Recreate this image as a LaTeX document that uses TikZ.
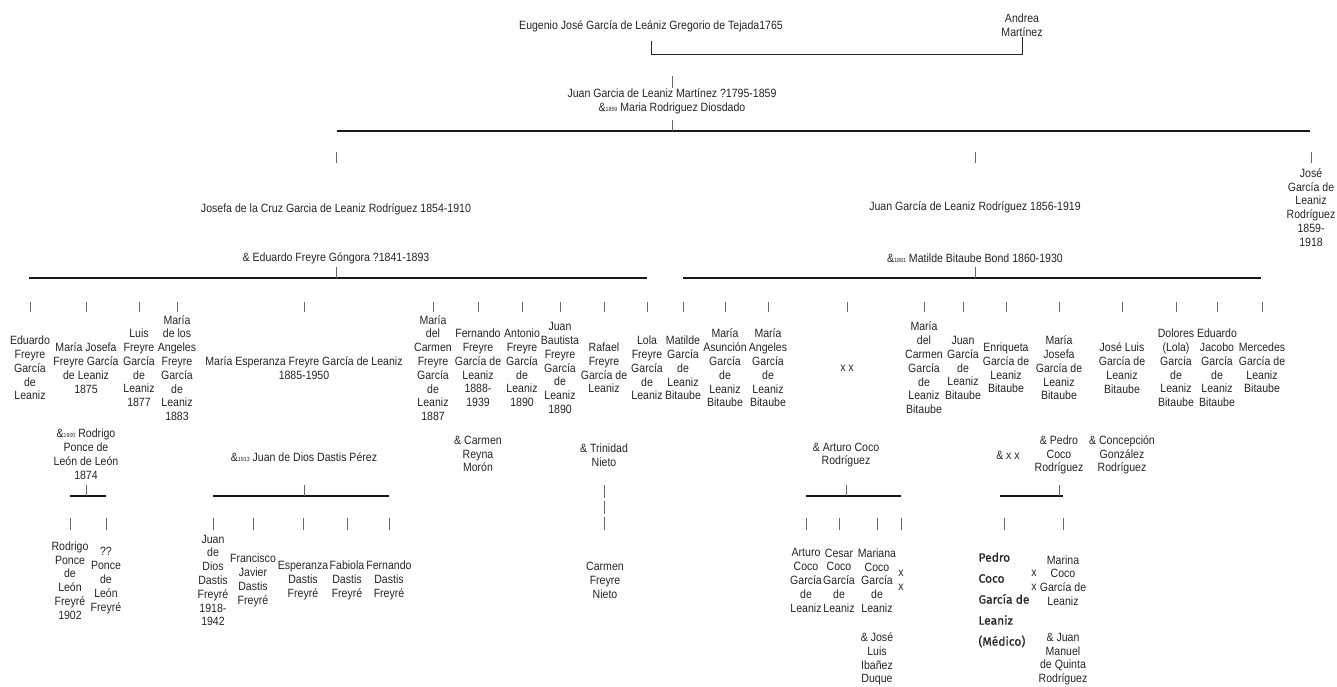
\documentclass[tikz,border=0pt]{standalone}
\usepackage{fontspec}
\setmainfont{Liberation Sans}[FakeStretch=0.88]
\newfontfamily\medfont{Fira Sans}[FakeBold=1]
\usetikzlibrary{calc}
\newcommand{\wy}[1]{{\fontsize{6}{6}\selectfont #1}}
\tikzstyle{person} = [align=center,inner sep=0pt,text=black!85,font=\fontsize{12}{13.8}\selectfont]
\tikzstyle{famline} = [line width=1.6pt,black!90]
\tikzstyle{stub} = [line width=0.7pt,black!60]

\begin{document}
\begin{tikzpicture}[x=1pt,y=-1pt]
\useasboundingbox (0,0) rectangle (1337,686);

% oldest couple and their son
\node[person] at (651,26) (eug) {Eugenio José García de Leániz Gregorio de Tejada1765};
\node[person] at (1022,25) (andrea) {Andrea\\Martínez};
\coordinate (top) at (0,54);
\draw[line width=1pt,black!85] (eug.south) ++(0,9) -- (eug.south |- top) -- (andrea.south |- top) -- (andrea.south);
\node[person] at (672,93) (juan) {Juan Garcia de Leaniz Martínez ?1795-1859};
\node[person] at (672,108) (maria) {\&\wy{1859} Maria Rodriguez Diosdado};
\draw[stub] ([yshift=12pt]juan.north) -- (juan.north);
\coordinate (b0l) at (337,131);
\coordinate (b0r) at (1310,131);
\draw[famline] (b0l) -- (b0r);
\draw[stub] ([yshift=-6pt]maria.south) -- (maria.south |- b0l);

% second generation
\node[person] at (336,209) (josefa) {Josefa de la Cruz Garcia de Leaniz Rodríguez 1854-1910};
\node[person] at (975,207) (juang) {Juan García de Leaniz Rodríguez 1856-1919};
\node[person] at (1311,207.5) (jose) {José\\García de\\Leaniz\\Rodríguez\\1859-\\1918};
\foreach \n in {josefa,juang,jose} {
    \draw[stub] (\n |- 0,152) -- (\n |- 0,163);
}
\node[person] at (336,258) (eduardo) {\& Eduardo Freyre Góngora ?1841-1893};
\node[person] at (975,258) (matilde) {\&\wy{1881} Matilde Bitaube Bond 1860-1930};
\coordinate (bAl) at (29,278);
\coordinate (bAr) at (647,278);
\coordinate (bBl) at (683,278);
\coordinate (bBr) at (1261,278);
\draw[famline] (bAl) -- (bAr);
\draw[famline] (bBl) -- (bBr);
\draw[stub] (eduardo |- 0,267) -- (eduardo |- bAl);
\draw[stub] (matilde |- 0,267) -- (matilde |- bBl);

% children of both families
\foreach \x/\t [count=\i] in {
    30/{Eduardo\\Freyre\\García\\de\\Leaniz},
    86/{María Josefa\\Freyre García\\de Leaniz\\1875},
    139/{Luis\\Freyre\\García\\de\\Leaniz\\1877},
    177/{María\\de los\\Angeles\\Freyre\\García\\de\\Leaniz\\1883},
    304/{María Esperanza Freyre García de Leaniz\\1885-1950},
    433/{María\\del\\Carmen\\Freyre\\García\\de\\Leaniz\\1887},
    478/{Fernando\\Freyre\\García de\\Leaniz\\1888-\\1939},
    522/{Antonio\\Freyre\\García\\de\\Leaniz\\1890},
    560/{Juan\\Bautista\\Freyre\\García\\de\\Leaniz\\1890},
    604/{Rafael\\Freyre\\García de\\Leaniz},
    647/{Lola\\Freyre\\García\\de\\Leaniz},
    683/{Matilde\\García\\de\\Leaniz\\Bitaube},
    725/{María\\Asunción\\García\\de\\Leaniz\\Bitaube},
    768/{María\\Angeles\\García\\de\\Leaniz\\Bitaube},
    847/{x x},
    924/{María\\del\\Carmen\\García\\de\\Leaniz\\Bitaube},
    963/{Juan\\García\\de\\Leaniz\\Bitaube},
    1006/{Enriqueta\\García de\\Leaniz\\Bitaube},
    1059/{María\\Josefa\\García de\\Leaniz\\Bitaube},
    1122/{José Luis\\García de\\Leaniz\\Bitaube},
    1176/{Dolores\\(Lola)\\García\\de\\Leaniz\\Bitaube},
    1217/{Eduardo\\Jacobo\\García\\de\\Leaniz\\Bitaube},
    1262/{Mercedes\\García de\\Leaniz\\Bitaube}} {
    \node[person] at (\x,368) (c\i) {\t};
}
\foreach \i in {1,...,23} {
    \draw[stub] (c\i |- 0,302) -- (c\i |- 0,312);
}

% their spouses
\node[person] at (86,454) (s1) {\&\wy{1900} Rodrigo\\Ponce de\\León de León\\1874};
\node[person] at (304,457) (s2) {\&\wy{1913} Juan de Dios Dastis Pérez};
\node[person] at (478,454) (s3) {\& Carmen\\Reyna\\Morón};
\node[person] at (604,455) (s4) {\& Trinidad\\Nieto};
\node[person] at (846,455) (s5) {\& Arturo Coco\\Rodríguez};
\node[person] at (1008,455) (s6) {\& x x};
\node[person] at (1059,455) (s7) {\& Pedro\\Coco\\Rodríguez};
\node[person] at (1122,455) (s8) {\& Concepción\\González\\Rodríguez};

% join up the grandchildren
\coordinate (bCl) at (70,496);   \coordinate (bCr) at (106,496);
\coordinate (bDl) at (213,496);  \coordinate (bDr) at (389,496);
\coordinate (bEl) at (806,496);  \coordinate (bEr) at (901,496);
\coordinate (bFl) at (1000,496); \coordinate (bFr) at (1063,496);
\draw[famline] (bCl) -- (bCr);
\draw[famline] (bDl) -- (bDr);
\draw[famline] (bEl) -- (bEr);
\draw[famline] (bFl) -- (bFr);
\draw[stub] (s1 |- 0,485) -- (s1 |- bCl);
\draw[stub] (s2 |- 0,485) -- (s2 |- bDl);
\draw[stub] (s5 |- 0,485) -- (s5 |- bEl);
\draw[stub] (s7 |- 0,485) -- (s7 |- bFl);
\draw[stub,dash pattern=on 13pt off 3pt] (s4 |- 0,485) -- (s4 |- 0,530);

\foreach \x/\t [count=\i] in {
    70/{Rodrigo\\Ponce\\de\\León\\Freyré\\1902},
    106/{??\\Ponce\\de\\León\\Freyré},
    213/{Juan\\de\\Dios\\Dastis\\Freyré\\1918-\\1942},
    253/{Francisco\\Javier\\Dastis\\Freyré},
    303/{Esperanza\\Dastis\\Freyré},
    347/{Fabiola\\Dastis\\Freyré},
    389/{Fernando\\Dastis\\Freyré},
    605/{Carmen\\Freyre\\Nieto},
    806/{Arturo\\Coco\\García\\de\\Leaniz},
    839/{Cesar\\Coco\\García\\de\\Leaniz},
    877/{Mariana\\Coco\\García\\de\\Leaniz},
    901/{x\\x},
    1034/{x\\x},
    1063/{Marina\\Coco\\García de\\Leaniz}} {
    \node[person] at (\x,580.5) (g\i) {\t};
}
\node[person,align=left,font=\medfont\fontsize{12}{21}\selectfont] at (1004,600) (pedro) {Pedro\\Coco\\García de\\Leaniz\\(Médico)};
\foreach \n in {g1,g2,g3,g4,g5,g6,g7,g9,g10,g11,g12,g14,pedro} {
    \draw[stub] (\n |- 0,518) -- (\n |- 0,530);
}

% spouses of the grandchildren
\node[person] at (877,659) (t1) {\& José\\Luis\\Ibañez\\Duque};
\node[person] at (1063,659) (t2) {\& Juan\\Manuel\\de Quinta\\Rodríguez};

\end{tikzpicture}
\end{document}
